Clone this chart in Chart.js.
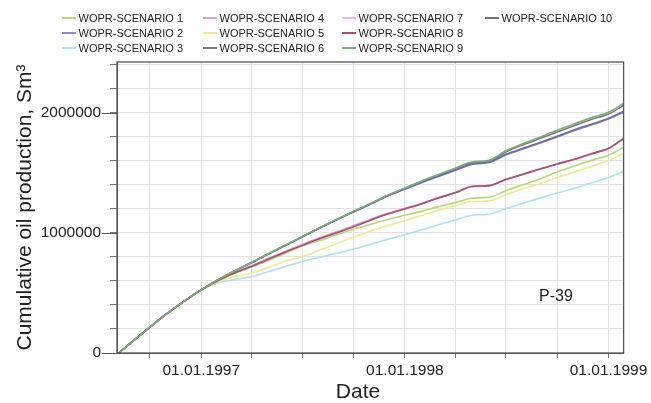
<!DOCTYPE html>
<html>
<head>
<meta charset="utf-8">
<script src="https://cdn.jsdelivr.net/npm/chart.js@4/dist/chart.umd.min.js"></script>
<style>
    html, body { margin: 0; padding: 0; background: #fff; }
    #wrap { width: 651px; height: 403px; position: relative; }
</style>
</head>
<body>
<div id="wrap"><canvas id="chart" width="651" height="403"></canvas></div>
<script>
// ===================================
// DATA
// ===================================

const dates = [
    '1996-08-06', '1996-09-01', '1996-10-01', '1996-11-01', '1996-12-01',
    '1997-01-01', '1997-02-01', '1997-03-01', '1997-04-01', '1997-05-01', '1997-06-01',
    '1997-07-01', '1997-08-01', '1997-09-01', '1997-10-01', '1997-11-01', '1997-12-01',
    '1998-01-01', '1998-02-01', '1998-03-01', '1998-04-01', '1998-05-01', '1998-06-01',
    '1998-07-01', '1998-08-01', '1998-09-01', '1998-10-01', '1998-11-01', '1998-12-01',
    '1999-01-01', '1999-01-28'
];

const seriesNames = [
    'WOPR-SCENARIO 1', 'WOPR-SCENARIO 2', 'WOPR-SCENARIO 3', 'WOPR-SCENARIO 4',
    'WOPR-SCENARIO 5', 'WOPR-SCENARIO 6', 'WOPR-SCENARIO 7', 'WOPR-SCENARIO 8',
    'WOPR-SCENARIO 9', 'WOPR-SCENARIO 10'
];

const seriesColors = [
    '#b5d77a', '#8a8ad8', '#ade3ea', '#dd9ee0', '#f0ea90',
    '#7a7a7a', '#ecb4ec', '#a4506a', '#7aae7a', '#6c6c98'
];

// drawing order: lower number is drawn on top
const seriesOrder = [5, 8, 7, 6, 6, 3, 6, 1, 0, 2];

const scenario1 = [0, 100000, 215000, 330000, 430000,
    525000, 600000, 660000, 715000, 770000, 830000, 890000, 935000, 985000, 1030000, 1070000, 1110000,
    1145000, 1180000, 1215000, 1250000, 1287000, 1295000, 1350000, 1400000, 1450000, 1505000, 1555000, 1600000,
    1645000, 1710000];
const scenario2 = [0, 100000, 215000, 330000, 430000,
    525000, 610000, 680000, 750000, 822000, 895000, 965000, 1038000, 1108000, 1172000, 1238000, 1305000,
    1362000, 1418000, 1466000, 1518000, 1568000, 1584000, 1646000, 1696000, 1746000, 1796000, 1850000, 1896000,
    1945000, 2002000];
const scenario3 = [0, 100000, 215000, 330000, 430000,
    525000, 585000, 610000, 635000, 675000, 720000, 760000, 795000, 830000, 865000, 905000, 945000,
    985000, 1025000, 1065000, 1105000, 1145000, 1155000, 1200000, 1245000, 1290000, 1330000, 1370000, 1415000,
    1460000, 1510000];
const scenario4 = [0, 100000, 215000, 330000, 430000,
    525000, 607000, 668000, 725000, 786000, 846000, 902000, 958000, 1008000, 1058000, 1113000, 1162000,
    1203000, 1246000, 1290000, 1334000, 1386000, 1393000, 1442000, 1486000, 1530000, 1570000, 1610000, 1655000,
    1700000, 1782000];
const scenario5 = [0, 100000, 215000, 330000, 430000,
    525000, 595000, 635000, 665000, 710000, 765000, 800000, 855000, 910000, 965000, 1015000, 1060000,
    1100000, 1145000, 1185000, 1225000, 1260000, 1265000, 1315000, 1365000, 1410000, 1460000, 1505000, 1550000,
    1600000, 1660000];
const scenario6 = [0, 100000, 215000, 330000, 430000,
    525000, 611000, 681000, 751000, 824000, 897000, 967000, 1040000, 1110000, 1176000, 1243000, 1310000,
    1370000, 1428000, 1478000, 1532000, 1582000, 1596000, 1672000, 1732000, 1785000, 1838000, 1892000, 1942000,
    1988000, 2060000];
const scenario7 = [0, 100000, 215000, 330000, 430000,
    525000, 606000, 667000, 723000, 783000, 843000, 899000, 954000, 1004000, 1054000, 1109000, 1158000,
    1200000, 1244000, 1288000, 1333000, 1385000, 1392000, 1442000, 1487000, 1531000, 1571000, 1611000, 1656000,
    1701000, 1784000];
const scenario8 = [0, 100000, 215000, 330000, 430000,
    525000, 605000, 665000, 720000, 780000, 840000, 895000, 950000, 1000000, 1050000, 1105000, 1155000,
    1198000, 1242000, 1287000, 1332000, 1385000, 1392000, 1442000, 1487000, 1532000, 1572000, 1612000, 1657000,
    1702000, 1785000];
const scenario9 = [0, 100000, 215000, 330000, 430000,
    525000, 612000, 682000, 752000, 825000, 898000, 968000, 1042000, 1112000, 1178000, 1245000, 1312000,
    1372000, 1432000, 1482000, 1537000, 1588000, 1602000, 1682000, 1742000, 1797000, 1852000, 1907000, 1957000,
    2002000, 2075000];
const scenario10 = [0, 100000, 215000, 330000, 430000,
    525000, 610000, 680000, 750000, 822000, 895000, 966000, 1039000, 1109000, 1174000, 1240000, 1307000,
    1365000, 1422000, 1470000, 1522000, 1572000, 1588000, 1652000, 1702000, 1752000, 1802000, 1857000, 1902000,
    1952000, 2010000];

const seriesValues = [scenario1, scenario2, scenario3, scenario4, scenario5,
    scenario6, scenario7, scenario8, scenario9, scenario10];

// axis range and ticks
const xMinDate = '1996-08-03';
const xMaxDate = '1999-01-28';
const xTickDates = ['1996-10-01', '1997-01-01', '1997-04-01', '1997-07-01', '1997-10-01',
    '1998-01-01', '1998-04-01', '1998-07-01', '1998-10-01', '1999-01-01'];
const xLabelDates = ['1997-01-01', '1998-01-01', '1999-01-01'];
const xLabels = ['01.01.1997', '01.01.1998', '01.01.1999'];

const yMax = 2420000;
const yTicks = [0, 200000, 400000, 600000, 800000, 1000000, 1200000, 1400000,
    1600000, 1800000, 2000000, 2200000, 2400000];
const yLabelValues = [0, 1000000, 2000000];

const yTitle = 'Cumulative oil production, Sm\u00B3';
const xTitle = 'Date';
const wellName = 'P-39';

// ===================================
// HELPERS
// ===================================

function toDay(s) {
    return Date.parse(s + 'T00:00:00Z') / 86400000;
}

const FONT = "'Liberation Sans', Arial, sans-serif";

// ===================================
// PLUGINS
// ===================================

const framePlugin = {
    id: 'frame',
    afterDraw(chart) {
        const { ctx, chartArea: a, scales } = chart;
        ctx.save();

        // long ticks at labelled y values
        ctx.strokeStyle = '#555';
        ctx.lineWidth = 1;
        yLabelValues.forEach(v => {
            const y = Math.round(scales.y.getPixelForValue(v)) + 0.5;
            ctx.beginPath();
            ctx.moveTo(a.left - 15, y);
            ctx.lineTo(a.left, y);
            ctx.stroke();
        });

        // plot frame
        ctx.strokeStyle = '#555';
        ctx.lineWidth = 1.3;
        ctx.strokeRect(a.left, a.top, a.right - a.left, a.bottom - a.top);

        // axis titles
        ctx.fillStyle = '#222';
        ctx.font = '21px ' + FONT;
        ctx.textAlign = 'center';
        ctx.textBaseline = 'middle';
        ctx.fillText(xTitle, 358, 392);

        ctx.save();
        ctx.translate(25, (a.top + a.bottom) / 2);
        ctx.rotate(-Math.PI / 2);
        ctx.fillText(yTitle, 0, 0);
        ctx.restore();

        // well name
        ctx.font = '16px ' + FONT;
        ctx.fillText(wellName, 556, 297);

        // legend, filled by columns of three
        ctx.font = '11px ' + FONT;
        ctx.textAlign = 'left';
        const colX = [62, 203, 342, 485];
        const rowY = [18, 33, 48];
        chart.data.datasets.forEach((ds, i) => {
            const x = colX[Math.floor(i / 3)];
            const y = rowY[i % 3];
            ctx.strokeStyle = ds.borderColor;
            ctx.lineWidth = 2;
            ctx.beginPath();
            ctx.moveTo(x, y);
            ctx.lineTo(x + 14, y);
            ctx.stroke();
            ctx.fillStyle = '#222';
            ctx.fillText(ds.label, x + 16.5, y + 0.5);
        });

        ctx.restore();
    }
};

// ===================================
// CHART
// ===================================

const datasets = seriesNames.map((name, i) => ({
    label: name,
    data: dates.map((d, j) => ({ x: toDay(d), y: seriesValues[i][j] })),
    borderColor: seriesColors[i],
    backgroundColor: seriesColors[i],
    borderWidth: 1.6,
    pointRadius: 0,
    order: seriesOrder[i],
    cubicInterpolationMode: 'monotone',
    fill: false
}));

new Chart(document.getElementById('chart'), {
    type: 'line',
    data: { datasets },
    options: {
        responsive: false,
        animation: false,
        events: [],
        layout: { padding: { top: 62, right: 23, left: 0, bottom: 0 } },
        plugins: {
            legend: { display: false },
            tooltip: { enabled: false }
        },
        scales: {
            x: {
                type: 'linear',
                min: toDay(xMinDate),
                max: toDay(xMaxDate),
                afterBuildTicks(scale) {
                    scale.ticks = xTickDates.map(d => ({ value: toDay(d) }));
                },
                afterFit(scale) { scale.height = 50; },
                ticks: {
                    autoSkip: false,
                    maxRotation: 0,
                    padding: 3,
                    color: '#222',
                    font: { family: FONT, size: 15.5 },
                    callback(value) {
                        const k = xLabelDates.findIndex(d => toDay(d) === value);
                        return k >= 0 ? xLabels[k] : '';
                    }
                },
                grid: {
                    color: '#e2e2e2',
                    lineWidth: 1,
                    tickLength: 5,
                    tickColor: '#777'
                },
                border: { color: '#555' }
            },
            y: {
                min: 0,
                max: yMax,
                afterBuildTicks(scale) {
                    scale.ticks = yTicks.map(v => ({ value: v }));
                },
                afterFit(scale) { scale.width = 117; },
                ticks: {
                    autoSkip: false,
                    padding: 9,
                    color: '#222',
                    font: { family: FONT, size: 15.5 },
                    callback(value) {
                        return yLabelValues.includes(value) ? String(value) : '';
                    }
                },
                grid: {
                    color: '#e2e2e2',
                    lineWidth: 1,
                    tickLength: 7,
                    tickColor: '#777'
                },
                border: { color: '#555' }
            }
        }
    },
    plugins: [framePlugin]
});
</script>
</body>
</html>
